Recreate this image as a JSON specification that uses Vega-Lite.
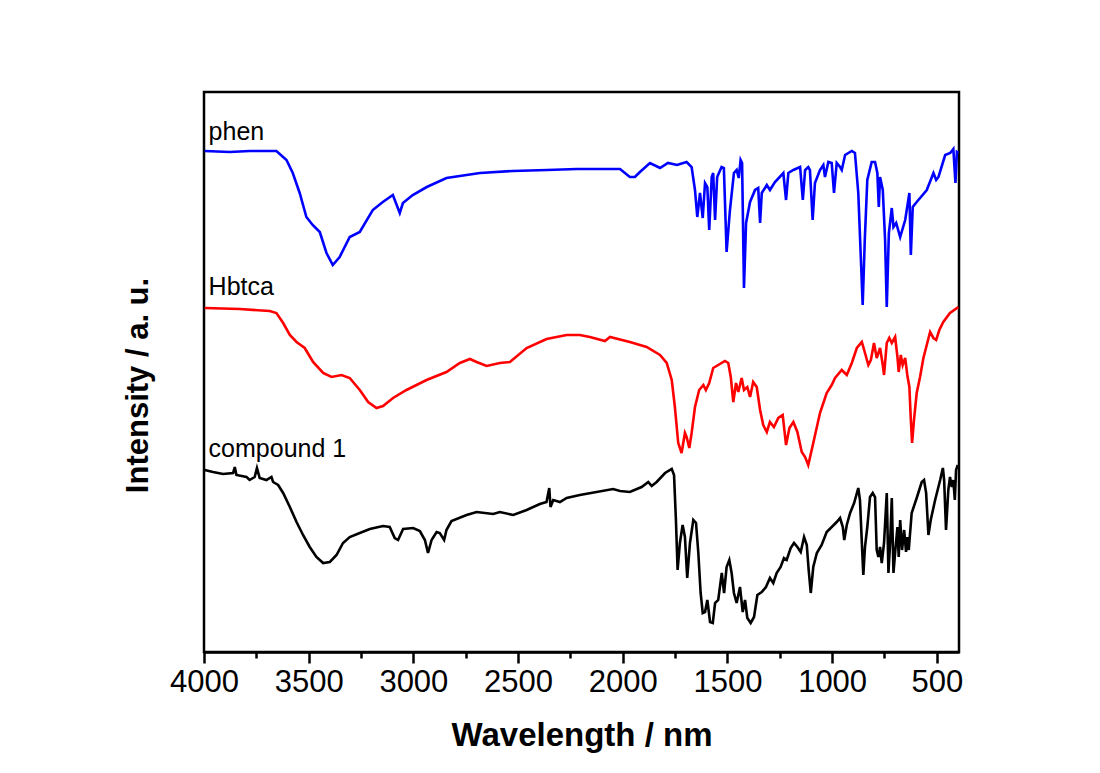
{
  "$schema": "https://vega.github.io/schema/vega-lite/v6.json",
  "width": 755,
  "height": 560,
  "autosize": {"type": "none"},
  "padding": {"left": 204, "top": 92, "right": 141, "bottom": 121},
  "background": "white",
  "config": {
    "view": {"stroke": "black", "strokeWidth": 2.5},
    "font": "Liberation Sans"
  },
  "datasets": {
    "spectra": [
      {"sample":"phen","wavenumber":3997,"intensity":501},{"sample":"phen","wavenumber":3877,"intensity":500},{"sample":"phen","wavenumber":3782,"intensity":501},{"sample":"phen","wavenumber":3654,"intensity":501},{"sample":"phen","wavenumber":3606,"intensity":492},{"sample":"phen","wavenumber":3576,"intensity":479},{"sample":"phen","wavenumber":3543,"intensity":459},{"sample":"phen","wavenumber":3511,"intensity":435},{"sample":"phen","wavenumber":3481,"intensity":427},{"sample":"phen","wavenumber":3447,"intensity":420},{"sample":"phen","wavenumber":3415,"intensity":399},{"sample":"phen","wavenumber":3385,"intensity":387},{"sample":"phen","wavenumber":3352,"intensity":395},{"sample":"phen","wavenumber":3304,"intensity":415},{"sample":"phen","wavenumber":3256,"intensity":420},{"sample":"phen","wavenumber":3194,"intensity":442},{"sample":"phen","wavenumber":3146,"intensity":450},{"sample":"phen","wavenumber":3098,"intensity":457},{"sample":"phen","wavenumber":3065,"intensity":439},{"sample":"phen","wavenumber":3050,"intensity":449},{"sample":"phen","wavenumber":3003,"intensity":457},{"sample":"phen","wavenumber":2936,"intensity":465},{"sample":"phen","wavenumber":2842,"intensity":474},{"sample":"phen","wavenumber":2682,"intensity":479},{"sample":"phen","wavenumber":2525,"intensity":481},{"sample":"phen","wavenumber":2362,"intensity":482},{"sample":"phen","wavenumber":2219,"intensity":483},{"sample":"phen","wavenumber":2013,"intensity":483},{"sample":"phen","wavenumber":1966,"intensity":475},{"sample":"phen","wavenumber":1942,"intensity":475},{"sample":"phen","wavenumber":1918,"intensity":480},{"sample":"phen","wavenumber":1870,"intensity":489},{"sample":"phen","wavenumber":1822,"intensity":484},{"sample":"phen","wavenumber":1784,"intensity":489},{"sample":"phen","wavenumber":1741,"intensity":487},{"sample":"phen","wavenumber":1695,"intensity":490},{"sample":"phen","wavenumber":1671,"intensity":485},{"sample":"phen","wavenumber":1655,"intensity":462},{"sample":"phen","wavenumber":1644,"intensity":435},{"sample":"phen","wavenumber":1631,"intensity":459},{"sample":"phen","wavenumber":1618,"intensity":434},{"sample":"phen","wavenumber":1607,"intensity":469},{"sample":"phen","wavenumber":1596,"intensity":465},{"sample":"phen","wavenumber":1587,"intensity":422},{"sample":"phen","wavenumber":1575,"intensity":475},{"sample":"phen","wavenumber":1568,"intensity":479},{"sample":"phen","wavenumber":1559,"intensity":432},{"sample":"phen","wavenumber":1549,"intensity":475},{"sample":"phen","wavenumber":1528,"intensity":485},{"sample":"phen","wavenumber":1517,"intensity":484},{"sample":"phen","wavenumber":1504,"intensity":400},{"sample":"phen","wavenumber":1488,"intensity":442},{"sample":"phen","wavenumber":1469,"intensity":479},{"sample":"phen","wavenumber":1456,"intensity":482},{"sample":"phen","wavenumber":1446,"intensity":474},{"sample":"phen","wavenumber":1437,"intensity":492},{"sample":"phen","wavenumber":1430,"intensity":489},{"sample":"phen","wavenumber":1421,"intensity":364},{"sample":"phen","wavenumber":1411,"intensity":429},{"sample":"phen","wavenumber":1392,"intensity":450},{"sample":"phen","wavenumber":1368,"intensity":462},{"sample":"phen","wavenumber":1353,"intensity":464},{"sample":"phen","wavenumber":1344,"intensity":429},{"sample":"phen","wavenumber":1336,"intensity":459},{"sample":"phen","wavenumber":1312,"intensity":467},{"sample":"phen","wavenumber":1297,"intensity":462},{"sample":"phen","wavenumber":1273,"intensity":470},{"sample":"phen","wavenumber":1233,"intensity":479},{"sample":"phen","wavenumber":1220,"intensity":452},{"sample":"phen","wavenumber":1209,"intensity":479},{"sample":"phen","wavenumber":1185,"intensity":482},{"sample":"phen","wavenumber":1153,"intensity":485},{"sample":"phen","wavenumber":1140,"intensity":452},{"sample":"phen","wavenumber":1129,"intensity":482},{"sample":"phen","wavenumber":1114,"intensity":485},{"sample":"phen","wavenumber":1106,"intensity":482},{"sample":"phen","wavenumber":1093,"intensity":432},{"sample":"phen","wavenumber":1082,"intensity":469},{"sample":"phen","wavenumber":1058,"intensity":482},{"sample":"phen","wavenumber":1042,"intensity":487},{"sample":"phen","wavenumber":1034,"intensity":475},{"sample":"phen","wavenumber":1018,"intensity":490},{"sample":"phen","wavenumber":1002,"intensity":489},{"sample":"phen","wavenumber":991,"intensity":459},{"sample":"phen","wavenumber":978,"intensity":489},{"sample":"phen","wavenumber":962,"intensity":485},{"sample":"phen","wavenumber":954,"intensity":482},{"sample":"phen","wavenumber":938,"intensity":497},{"sample":"phen","wavenumber":906,"intensity":501},{"sample":"phen","wavenumber":891,"intensity":499},{"sample":"phen","wavenumber":875,"intensity":459},{"sample":"phen","wavenumber":863,"intensity":395},{"sample":"phen","wavenumber":854,"intensity":347},{"sample":"phen","wavenumber":844,"intensity":412},{"sample":"phen","wavenumber":832,"intensity":472},{"sample":"phen","wavenumber":811,"intensity":490},{"sample":"phen","wavenumber":795,"intensity":490},{"sample":"phen","wavenumber":784,"intensity":479},{"sample":"phen","wavenumber":777,"intensity":445},{"sample":"phen","wavenumber":771,"intensity":475},{"sample":"phen","wavenumber":758,"intensity":462},{"sample":"phen","wavenumber":747,"intensity":412},{"sample":"phen","wavenumber":739,"intensity":345},{"sample":"phen","wavenumber":729,"intensity":419},{"sample":"phen","wavenumber":715,"intensity":444},{"sample":"phen","wavenumber":707,"intensity":425},{"sample":"phen","wavenumber":694,"intensity":429},{"sample":"phen","wavenumber":675,"intensity":415},{"sample":"phen","wavenumber":651,"intensity":432},{"sample":"phen","wavenumber":631,"intensity":459},{"sample":"phen","wavenumber":624,"intensity":397},{"sample":"phen","wavenumber":615,"intensity":445},{"sample":"phen","wavenumber":596,"intensity":450},{"sample":"phen","wavenumber":548,"intensity":462},{"sample":"phen","wavenumber":516,"intensity":479},{"sample":"phen","wavenumber":503,"intensity":472},{"sample":"phen","wavenumber":492,"intensity":475},{"sample":"phen","wavenumber":460,"intensity":497},{"sample":"phen","wavenumber":436,"intensity":499},{"sample":"phen","wavenumber":421,"intensity":503},{"sample":"phen","wavenumber":411,"intensity":469},{"sample":"phen","wavenumber":404,"intensity":500},{"sample":"phen","wavenumber":397,"intensity":499},

      {"sample":"Hbtca","wavenumber":3997,"intensity":344},{"sample":"Hbtca","wavenumber":3829,"intensity":343},{"sample":"Hbtca","wavenumber":3686,"intensity":341},{"sample":"Hbtca","wavenumber":3654,"intensity":339},{"sample":"Hbtca","wavenumber":3622,"intensity":329},{"sample":"Hbtca","wavenumber":3590,"intensity":317},{"sample":"Hbtca","wavenumber":3558,"intensity":310},{"sample":"Hbtca","wavenumber":3519,"intensity":304},{"sample":"Hbtca","wavenumber":3479,"intensity":290},{"sample":"Hbtca","wavenumber":3431,"intensity":279},{"sample":"Hbtca","wavenumber":3391,"intensity":275},{"sample":"Hbtca","wavenumber":3343,"intensity":277},{"sample":"Hbtca","wavenumber":3304,"intensity":274},{"sample":"Hbtca","wavenumber":3256,"intensity":262},{"sample":"Hbtca","wavenumber":3216,"intensity":250},{"sample":"Hbtca","wavenumber":3176,"intensity":244},{"sample":"Hbtca","wavenumber":3145,"intensity":246},{"sample":"Hbtca","wavenumber":3097,"intensity":254},{"sample":"Hbtca","wavenumber":3033,"intensity":262},{"sample":"Hbtca","wavenumber":2937,"intensity":272},{"sample":"Hbtca","wavenumber":2842,"intensity":280},{"sample":"Hbtca","wavenumber":2778,"intensity":289},{"sample":"Hbtca","wavenumber":2730,"intensity":293},{"sample":"Hbtca","wavenumber":2698,"intensity":290},{"sample":"Hbtca","wavenumber":2650,"intensity":286},{"sample":"Hbtca","wavenumber":2587,"intensity":289},{"sample":"Hbtca","wavenumber":2539,"intensity":290},{"sample":"Hbtca","wavenumber":2459,"intensity":304},{"sample":"Hbtca","wavenumber":2364,"intensity":313},{"sample":"Hbtca","wavenumber":2268,"intensity":317},{"sample":"Hbtca","wavenumber":2205,"intensity":317},{"sample":"Hbtca","wavenumber":2157,"intensity":315},{"sample":"Hbtca","wavenumber":2085,"intensity":311},{"sample":"Hbtca","wavenumber":2061,"intensity":315},{"sample":"Hbtca","wavenumber":1966,"intensity":310},{"sample":"Hbtca","wavenumber":1886,"intensity":305},{"sample":"Hbtca","wavenumber":1822,"intensity":297},{"sample":"Hbtca","wavenumber":1790,"intensity":289},{"sample":"Hbtca","wavenumber":1766,"intensity":272},{"sample":"Hbtca","wavenumber":1751,"intensity":245},{"sample":"Hbtca","wavenumber":1735,"intensity":209},{"sample":"Hbtca","wavenumber":1719,"intensity":199},{"sample":"Hbtca","wavenumber":1703,"intensity":219},{"sample":"Hbtca","wavenumber":1695,"intensity":215},{"sample":"Hbtca","wavenumber":1682,"intensity":204},{"sample":"Hbtca","wavenumber":1671,"intensity":219},{"sample":"Hbtca","wavenumber":1655,"intensity":245},{"sample":"Hbtca","wavenumber":1635,"intensity":262},{"sample":"Hbtca","wavenumber":1615,"intensity":267},{"sample":"Hbtca","wavenumber":1603,"intensity":262},{"sample":"Hbtca","wavenumber":1587,"intensity":269},{"sample":"Hbtca","wavenumber":1568,"intensity":284},{"sample":"Hbtca","wavenumber":1544,"intensity":287},{"sample":"Hbtca","wavenumber":1512,"intensity":291},{"sample":"Hbtca","wavenumber":1496,"intensity":289},{"sample":"Hbtca","wavenumber":1484,"intensity":275},{"sample":"Hbtca","wavenumber":1472,"intensity":250},{"sample":"Hbtca","wavenumber":1459,"intensity":269},{"sample":"Hbtca","wavenumber":1448,"intensity":260},{"sample":"Hbtca","wavenumber":1432,"intensity":274},{"sample":"Hbtca","wavenumber":1421,"intensity":262},{"sample":"Hbtca","wavenumber":1405,"intensity":265},{"sample":"Hbtca","wavenumber":1392,"intensity":255},{"sample":"Hbtca","wavenumber":1377,"intensity":270},{"sample":"Hbtca","wavenumber":1360,"intensity":265},{"sample":"Hbtca","wavenumber":1344,"intensity":242},{"sample":"Hbtca","wavenumber":1329,"intensity":227},{"sample":"Hbtca","wavenumber":1312,"intensity":220},{"sample":"Hbtca","wavenumber":1297,"intensity":230},{"sample":"Hbtca","wavenumber":1278,"intensity":225},{"sample":"Hbtca","wavenumber":1257,"intensity":234},{"sample":"Hbtca","wavenumber":1236,"intensity":237},{"sample":"Hbtca","wavenumber":1220,"intensity":207},{"sample":"Hbtca","wavenumber":1204,"intensity":224},{"sample":"Hbtca","wavenumber":1185,"intensity":230},{"sample":"Hbtca","wavenumber":1166,"intensity":220},{"sample":"Hbtca","wavenumber":1145,"intensity":200},{"sample":"Hbtca","wavenumber":1129,"intensity":195},{"sample":"Hbtca","wavenumber":1114,"intensity":187},{"sample":"Hbtca","wavenumber":1090,"intensity":209},{"sample":"Hbtca","wavenumber":1058,"intensity":239},{"sample":"Hbtca","wavenumber":1026,"intensity":259},{"sample":"Hbtca","wavenumber":1002,"intensity":267},{"sample":"Hbtca","wavenumber":986,"intensity":274},{"sample":"Hbtca","wavenumber":954,"intensity":282},{"sample":"Hbtca","wavenumber":930,"intensity":277},{"sample":"Hbtca","wavenumber":906,"intensity":289},{"sample":"Hbtca","wavenumber":882,"intensity":304},{"sample":"Hbtca","wavenumber":858,"intensity":310},{"sample":"Hbtca","wavenumber":843,"intensity":299},{"sample":"Hbtca","wavenumber":827,"intensity":287},{"sample":"Hbtca","wavenumber":815,"intensity":292},{"sample":"Hbtca","wavenumber":800,"intensity":309},{"sample":"Hbtca","wavenumber":787,"intensity":294},{"sample":"Hbtca","wavenumber":771,"intensity":304},{"sample":"Hbtca","wavenumber":758,"intensity":287},{"sample":"Hbtca","wavenumber":752,"intensity":277},{"sample":"Hbtca","wavenumber":739,"intensity":309},{"sample":"Hbtca","wavenumber":727,"intensity":314},{"sample":"Hbtca","wavenumber":715,"intensity":309},{"sample":"Hbtca","wavenumber":699,"intensity":315},{"sample":"Hbtca","wavenumber":688,"intensity":295},{"sample":"Hbtca","wavenumber":682,"intensity":280},{"sample":"Hbtca","wavenumber":672,"intensity":297},{"sample":"Hbtca","wavenumber":663,"intensity":287},{"sample":"Hbtca","wavenumber":651,"intensity":294},{"sample":"Hbtca","wavenumber":641,"intensity":277},{"sample":"Hbtca","wavenumber":631,"intensity":265},{"sample":"Hbtca","wavenumber":624,"intensity":232},{"sample":"Hbtca","wavenumber":618,"intensity":209},{"sample":"Hbtca","wavenumber":609,"intensity":232},{"sample":"Hbtca","wavenumber":596,"intensity":259},{"sample":"Hbtca","wavenumber":580,"intensity":275},{"sample":"Hbtca","wavenumber":564,"intensity":294},{"sample":"Hbtca","wavenumber":548,"intensity":307},{"sample":"Hbtca","wavenumber":532,"intensity":320},{"sample":"Hbtca","wavenumber":516,"intensity":314},{"sample":"Hbtca","wavenumber":503,"intensity":312},{"sample":"Hbtca","wavenumber":488,"intensity":322},{"sample":"Hbtca","wavenumber":469,"intensity":330},{"sample":"Hbtca","wavenumber":437,"intensity":339},{"sample":"Hbtca","wavenumber":397,"intensity":345},

      {"sample":"compound 1","wavenumber":3997,"intensity":182},{"sample":"compound 1","wavenumber":3957,"intensity":180},{"sample":"compound 1","wavenumber":3909,"intensity":178},{"sample":"compound 1","wavenumber":3861,"intensity":179},{"sample":"compound 1","wavenumber":3853,"intensity":185},{"sample":"compound 1","wavenumber":3845,"intensity":177},{"sample":"compound 1","wavenumber":3797,"intensity":175},{"sample":"compound 1","wavenumber":3782,"intensity":172},{"sample":"compound 1","wavenumber":3758,"intensity":175},{"sample":"compound 1","wavenumber":3747,"intensity":184},{"sample":"compound 1","wavenumber":3734,"intensity":174},{"sample":"compound 1","wavenumber":3702,"intensity":172},{"sample":"compound 1","wavenumber":3678,"intensity":175},{"sample":"compound 1","wavenumber":3670,"intensity":170},{"sample":"compound 1","wavenumber":3646,"intensity":167},{"sample":"compound 1","wavenumber":3622,"intensity":159},{"sample":"compound 1","wavenumber":3590,"intensity":145},{"sample":"compound 1","wavenumber":3558,"intensity":130},{"sample":"compound 1","wavenumber":3527,"intensity":117},{"sample":"compound 1","wavenumber":3495,"intensity":105},{"sample":"compound 1","wavenumber":3463,"intensity":95},{"sample":"compound 1","wavenumber":3431,"intensity":89},{"sample":"compound 1","wavenumber":3399,"intensity":90},{"sample":"compound 1","wavenumber":3367,"intensity":97},{"sample":"compound 1","wavenumber":3336,"intensity":109},{"sample":"compound 1","wavenumber":3304,"intensity":115},{"sample":"compound 1","wavenumber":3256,"intensity":119},{"sample":"compound 1","wavenumber":3208,"intensity":123},{"sample":"compound 1","wavenumber":3145,"intensity":126},{"sample":"compound 1","wavenumber":3113,"intensity":125},{"sample":"compound 1","wavenumber":3089,"intensity":114},{"sample":"compound 1","wavenumber":3073,"intensity":112},{"sample":"compound 1","wavenumber":3049,"intensity":123},{"sample":"compound 1","wavenumber":3001,"intensity":124},{"sample":"compound 1","wavenumber":2969,"intensity":121},{"sample":"compound 1","wavenumber":2945,"intensity":112},{"sample":"compound 1","wavenumber":2930,"intensity":99},{"sample":"compound 1","wavenumber":2913,"intensity":112},{"sample":"compound 1","wavenumber":2889,"intensity":120},{"sample":"compound 1","wavenumber":2874,"intensity":119},{"sample":"compound 1","wavenumber":2853,"intensity":112},{"sample":"compound 1","wavenumber":2842,"intensity":122},{"sample":"compound 1","wavenumber":2818,"intensity":131},{"sample":"compound 1","wavenumber":2746,"intensity":137},{"sample":"compound 1","wavenumber":2698,"intensity":140},{"sample":"compound 1","wavenumber":2619,"intensity":138},{"sample":"compound 1","wavenumber":2587,"intensity":140},{"sample":"compound 1","wavenumber":2523,"intensity":137},{"sample":"compound 1","wavenumber":2459,"intensity":142},{"sample":"compound 1","wavenumber":2396,"intensity":148},{"sample":"compound 1","wavenumber":2364,"intensity":150},{"sample":"compound 1","wavenumber":2351,"intensity":164},{"sample":"compound 1","wavenumber":2345,"intensity":145},{"sample":"compound 1","wavenumber":2332,"intensity":152},{"sample":"compound 1","wavenumber":2300,"intensity":150},{"sample":"compound 1","wavenumber":2268,"intensity":154},{"sample":"compound 1","wavenumber":2205,"intensity":157},{"sample":"compound 1","wavenumber":2046,"intensity":163},{"sample":"compound 1","wavenumber":2013,"intensity":161},{"sample":"compound 1","wavenumber":1966,"intensity":160},{"sample":"compound 1","wavenumber":1910,"intensity":165},{"sample":"compound 1","wavenumber":1878,"intensity":170},{"sample":"compound 1","wavenumber":1862,"intensity":166},{"sample":"compound 1","wavenumber":1838,"intensity":170},{"sample":"compound 1","wavenumber":1798,"intensity":179},{"sample":"compound 1","wavenumber":1766,"intensity":183},{"sample":"compound 1","wavenumber":1755,"intensity":177},{"sample":"compound 1","wavenumber":1746,"intensity":132},{"sample":"compound 1","wavenumber":1738,"intensity":82},{"sample":"compound 1","wavenumber":1727,"intensity":109},{"sample":"compound 1","wavenumber":1714,"intensity":127},{"sample":"compound 1","wavenumber":1703,"intensity":115},{"sample":"compound 1","wavenumber":1692,"intensity":74},{"sample":"compound 1","wavenumber":1679,"intensity":109},{"sample":"compound 1","wavenumber":1663,"intensity":132},{"sample":"compound 1","wavenumber":1650,"intensity":129},{"sample":"compound 1","wavenumber":1639,"intensity":99},{"sample":"compound 1","wavenumber":1628,"intensity":59},{"sample":"compound 1","wavenumber":1618,"intensity":39},{"sample":"compound 1","wavenumber":1607,"intensity":40},{"sample":"compound 1","wavenumber":1596,"intensity":52},{"sample":"compound 1","wavenumber":1583,"intensity":30},{"sample":"compound 1","wavenumber":1570,"intensity":29},{"sample":"compound 1","wavenumber":1559,"intensity":49},{"sample":"compound 1","wavenumber":1544,"intensity":52},{"sample":"compound 1","wavenumber":1527,"intensity":79},{"sample":"compound 1","wavenumber":1516,"intensity":59},{"sample":"compound 1","wavenumber":1504,"intensity":85},{"sample":"compound 1","wavenumber":1491,"intensity":92},{"sample":"compound 1","wavenumber":1480,"intensity":79},{"sample":"compound 1","wavenumber":1469,"intensity":59},{"sample":"compound 1","wavenumber":1456,"intensity":49},{"sample":"compound 1","wavenumber":1440,"intensity":65},{"sample":"compound 1","wavenumber":1427,"intensity":40},{"sample":"compound 1","wavenumber":1416,"intensity":52},{"sample":"compound 1","wavenumber":1405,"intensity":34},{"sample":"compound 1","wavenumber":1389,"intensity":29},{"sample":"compound 1","wavenumber":1373,"intensity":35},{"sample":"compound 1","wavenumber":1357,"intensity":57},{"sample":"compound 1","wavenumber":1336,"intensity":60},{"sample":"compound 1","wavenumber":1316,"intensity":65},{"sample":"compound 1","wavenumber":1297,"intensity":74},{"sample":"compound 1","wavenumber":1281,"intensity":69},{"sample":"compound 1","wavenumber":1265,"intensity":79},{"sample":"compound 1","wavenumber":1246,"intensity":85},{"sample":"compound 1","wavenumber":1230,"intensity":94},{"sample":"compound 1","wavenumber":1217,"intensity":92},{"sample":"compound 1","wavenumber":1198,"intensity":104},{"sample":"compound 1","wavenumber":1182,"intensity":109},{"sample":"compound 1","wavenumber":1166,"intensity":105},{"sample":"compound 1","wavenumber":1150,"intensity":100},{"sample":"compound 1","wavenumber":1134,"intensity":115},{"sample":"compound 1","wavenumber":1121,"intensity":107},{"sample":"compound 1","wavenumber":1112,"intensity":82},{"sample":"compound 1","wavenumber":1102,"intensity":59},{"sample":"compound 1","wavenumber":1090,"intensity":85},{"sample":"compound 1","wavenumber":1073,"intensity":99},{"sample":"compound 1","wavenumber":1050,"intensity":107},{"sample":"compound 1","wavenumber":1026,"intensity":120},{"sample":"compound 1","wavenumber":1002,"intensity":125},{"sample":"compound 1","wavenumber":978,"intensity":130},{"sample":"compound 1","wavenumber":962,"intensity":134},{"sample":"compound 1","wavenumber":949,"intensity":125},{"sample":"compound 1","wavenumber":942,"intensity":112},{"sample":"compound 1","wavenumber":930,"intensity":127},{"sample":"compound 1","wavenumber":914,"intensity":139},{"sample":"compound 1","wavenumber":895,"intensity":149},{"sample":"compound 1","wavenumber":875,"intensity":164},{"sample":"compound 1","wavenumber":867,"intensity":152},{"sample":"compound 1","wavenumber":858,"intensity":109},{"sample":"compound 1","wavenumber":851,"intensity":77},{"sample":"compound 1","wavenumber":843,"intensity":105},{"sample":"compound 1","wavenumber":832,"intensity":125},{"sample":"compound 1","wavenumber":819,"intensity":155},{"sample":"compound 1","wavenumber":806,"intensity":159},{"sample":"compound 1","wavenumber":795,"intensity":155},{"sample":"compound 1","wavenumber":787,"intensity":102},{"sample":"compound 1","wavenumber":779,"intensity":95},{"sample":"compound 1","wavenumber":771,"intensity":105},{"sample":"compound 1","wavenumber":763,"intensity":89},{"sample":"compound 1","wavenumber":752,"intensity":109},{"sample":"compound 1","wavenumber":739,"intensity":159},{"sample":"compound 1","wavenumber":731,"intensity":79},{"sample":"compound 1","wavenumber":723,"intensity":109},{"sample":"compound 1","wavenumber":715,"intensity":154},{"sample":"compound 1","wavenumber":707,"intensity":79},{"sample":"compound 1","wavenumber":698,"intensity":102},{"sample":"compound 1","wavenumber":688,"intensity":125},{"sample":"compound 1","wavenumber":682,"intensity":95},{"sample":"compound 1","wavenumber":675,"intensity":132},{"sample":"compound 1","wavenumber":666,"intensity":102},{"sample":"compound 1","wavenumber":656,"intensity":122},{"sample":"compound 1","wavenumber":647,"intensity":100},{"sample":"compound 1","wavenumber":641,"intensity":115},{"sample":"compound 1","wavenumber":634,"intensity":102},{"sample":"compound 1","wavenumber":620,"intensity":139},{"sample":"compound 1","wavenumber":596,"intensity":154},{"sample":"compound 1","wavenumber":572,"intensity":170},{"sample":"compound 1","wavenumber":561,"intensity":172},{"sample":"compound 1","wavenumber":551,"intensity":159},{"sample":"compound 1","wavenumber":540,"intensity":117},{"sample":"compound 1","wavenumber":529,"intensity":132},{"sample":"compound 1","wavenumber":508,"intensity":152},{"sample":"compound 1","wavenumber":484,"intensity":172},{"sample":"compound 1","wavenumber":471,"intensity":184},{"sample":"compound 1","wavenumber":465,"intensity":172},{"sample":"compound 1","wavenumber":456,"intensity":122},{"sample":"compound 1","wavenumber":445,"intensity":162},{"sample":"compound 1","wavenumber":437,"intensity":175},{"sample":"compound 1","wavenumber":428,"intensity":165},{"sample":"compound 1","wavenumber":421,"intensity":172},{"sample":"compound 1","wavenumber":414,"intensity":152},{"sample":"compound 1","wavenumber":408,"intensity":182},{"sample":"compound 1","wavenumber":400,"intensity":187}
    ],
    "labels": [
      {"sample": "phen", "wavenumber": 3978, "intensity": 512},
      {"sample": "Hbtca", "wavenumber": 3978, "intensity": 357},
      {"sample": "compound 1", "wavenumber": 3978, "intensity": 195}
    ]
  },
  "encoding": {
    "x": {
      "field": "wavenumber",
      "type": "quantitative",
      "scale": {"domain": [394, 4000], "reverse": true, "nice": false, "zero": false},
      "axis": {
        "title": "Wavelength / nm",
        "values": [4000, 3750, 3500, 3250, 3000, 2750, 2500, 2250, 2000, 1750, 1500, 1250, 1000, 750, 500],
        "format": "d",
        "labelExpr": "datum.value % 500 === 0 ? datum.label : ''",
        "grid": false,
        "domain": true,
        "domainColor": "black",
        "domainWidth": 2.5,
        "ticks": true,
        "tickColor": "black",
        "tickWidth": 2.5,
        "tickSize": {"condition": {"test": "datum.value % 500 === 0", "value": 11}, "value": 6},
        "labelFont": "Liberation Sans",
        "labelFontSize": 31,
        "labelColor": "black",
        "labelPadding": 4,
        "labelFlush": false,
        "labelOverlap": false,
        "titleFont": "Liberation Sans",
        "titleFontSize": 33,
        "titleFontWeight": "bold",
        "titleColor": "black",
        "titlePadding": 22
      }
    },
    "y": {
      "field": "intensity",
      "type": "quantitative",
      "scale": {"domain": [0, 560], "nice": false, "zero": false},
      "axis": {
        "title": "Intensity / a. u.",
        "labels": false,
        "ticks": false,
        "domain": false,
        "grid": false,
        "titleFont": "Liberation Sans",
        "titleFontSize": 31,
        "titleFontWeight": "bold",
        "titleColor": "black",
        "titlePadding": 50,
        "titleY": 293
      }
    }
  },
  "layer": [
    {
      "data": {"name": "spectra"},
      "mark": {"type": "line", "strokeWidth": 2.6, "clip": true, "interpolate": "linear"},
      "encoding": {
        "color": {
          "field": "sample",
          "type": "nominal",
          "scale": {"domain": ["phen", "Hbtca", "compound 1"], "range": ["#0000ff", "#ff0000", "#000000"]},
          "legend": null
        }
      }
    },
    {
      "data": {"name": "labels"},
      "mark": {"type": "text", "align": "left", "baseline": "alphabetic", "font": "Liberation Sans", "fontSize": 25, "color": "black"},
      "encoding": {
        "text": {"field": "sample", "type": "nominal"}
      }
    }
  ]
}
